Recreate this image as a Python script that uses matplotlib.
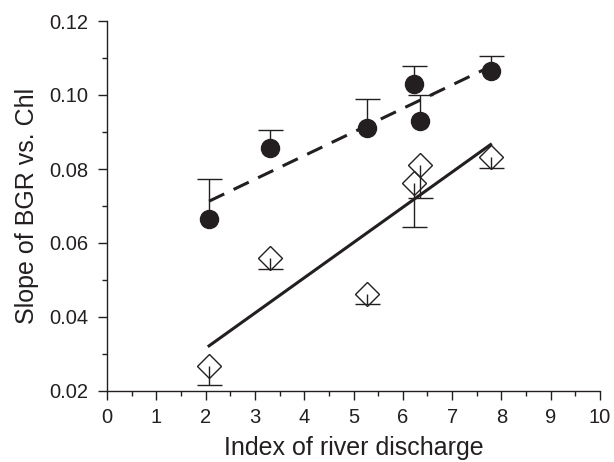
"""Slope of BGR vs. Chl against index of river discharge."""

import numpy as np
import matplotlib.pyplot as plt
import matplotlib as mpl
from matplotlib.ticker import MultipleLocator

INK = "#231f20"

mpl.rcParams.update({
    "font.family": ["Liberation Sans", "DejaVu Sans"],
    "font.size": 14,
    "text.color": INK,
    "axes.labelcolor": INK,
    "axes.edgecolor": INK,
    "xtick.color": INK,
    "ytick.color": INK,
})

# filled circles (upper error bars)
circ_x = [2.07, 3.30, 5.27, 6.23, 6.34, 7.78]
circ_y = [0.0664, 0.0858, 0.0911, 0.1031, 0.0929, 0.1064]
circ_err = [0.0109, 0.0047, 0.0079, 0.0047, 0.0072, 0.0041]

# open diamonds (lower error bars)
diam_x = [2.07, 3.30, 5.27, 6.23, 6.34, 7.78]
diam_y = [0.0267, 0.0559, 0.0463, 0.0763, 0.0810, 0.0832]
diam_err = [0.0050, 0.0030, 0.0029, 0.0120, 0.0088, 0.0029]

# regression lines (end points)
fit_circ_x = [2.07, 7.78]
fit_circ_y = [0.0713, 0.1077]
fit_diam_x = [2.07, 7.78]
fit_diam_y = [0.0322, 0.0866]


def one_sided_bars(ax, x, y, err, sign):
    """Vertical bar from the point to y + sign*err, capped only at the far end."""
    x = np.asarray(x)
    y = np.asarray(y)
    end = y + sign * np.asarray(err)
    ax.vlines(x, y, end, color=INK, lw=1.0, zorder=2)
    ax.plot(x, end, ls="none", marker="_", ms=18, mew=1.0,
            color=INK, zorder=2)


fig = plt.figure(figsize=(6.14, 4.62), dpi=100)
# axes box: x 107..600 px, y 21..391 px
ax = fig.add_axes([107 / 614, 71 / 462, 493 / 614, 370 / 462])

ax.plot(fit_circ_x, fit_circ_y, color=INK, lw=2.2, ls=(0, (5.5, 3.4)))
ax.plot(fit_diam_x, fit_diam_y, color=INK, lw=2.2)

one_sided_bars(ax, circ_x, circ_y, circ_err, +1)
one_sided_bars(ax, diam_x, diam_y, diam_err, -1)

ax.plot(circ_x, circ_y, ls="none", marker="o", ms=13,
        mfc=INK, mec=INK, zorder=3)
ax.plot(diam_x, diam_y, ls="none", marker="D", ms=12.5,
        mfc="none", mec=INK, mew=1.0, zorder=3)

ax.set_xlim(0, 10)
ax.set_ylim(0.02, 0.12)
ax.xaxis.set_major_locator(MultipleLocator(1))
ax.xaxis.set_minor_locator(MultipleLocator(0.5))
ax.yaxis.set_major_locator(MultipleLocator(0.02))
ax.yaxis.set_minor_locator(MultipleLocator(0.01))
ax.yaxis.set_major_formatter(mpl.ticker.FormatStrFormatter("%.2f"))

for side in ["top", "right"]:
    ax.spines[side].set_visible(False)
for side in ["left", "bottom"]:
    ax.spines[side].set_linewidth(1.0)
ax.tick_params(which="major", direction="out", length=6.5, width=1.0,
               labelsize=14.5)
ax.tick_params(axis="x", which="major", pad=6)
ax.tick_params(axis="y", which="major", pad=7)
ax.tick_params(which="minor", direction="out", length=3.6, width=1.0)

ax.set_xlabel("Index of river discharge", fontsize=18, labelpad=6)
ax.set_ylabel("Slope of BGR vs. Chl", fontsize=18, labelpad=7)

fig.savefig("out.png", dpi=100)
